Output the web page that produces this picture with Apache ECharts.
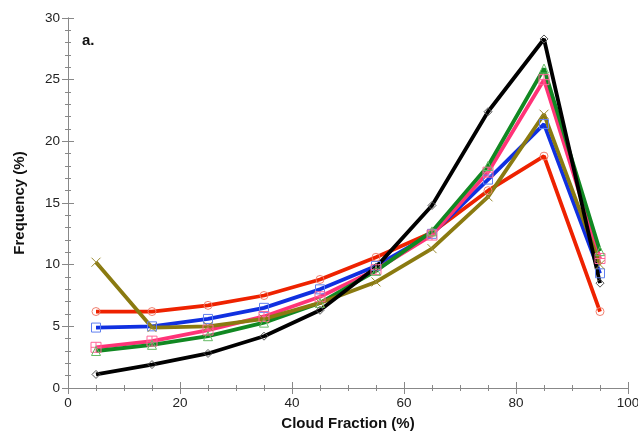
<!DOCTYPE html>
<html>
<head>
<meta charset="utf-8">
<script src="https://cdn.jsdelivr.net/npm/echarts@6/dist/echarts.min.js"></script>
<style>
html, body { margin: 0; padding: 0; background: #fff; }
#main { width: 638px; height: 431px; }
</style>
</head>
<body>
<div id="main"></div>
<script>
// cloud fraction bin centres
var cloudFraction = [5, 15, 25, 35, 45, 55, 65, 75, 85, 95];

var redVals   = [6.2, 6.2, 6.7, 7.5, 8.8, 10.6, 12.6, 16.0, 18.8, 6.2];
var blueVals  = [4.9, 5.0, 5.6, 6.5, 8.0, 9.9, 12.5, 16.9, 21.4, 9.3];
var pinkVals  = [3.3, 3.8, 4.7, 5.8, 7.4, 9.6, 12.4, 17.5, 25.0, 10.5];
var greenVals = [3.0, 3.5, 4.2, 5.3, 6.9, 9.5, 12.7, 18.0, 25.9, 11.1];
var oliveVals = [10.2, 4.9, 5.0, 5.6, 6.9, 8.6, 11.3, 15.5, 22.2, 10.0];
var blackVals = [1.1, 1.9, 2.8, 4.2, 6.3, 9.8, 14.8, 22.4, 28.3, 8.5];

function pairs(vals) {
  return cloudFraction.map(function (x, i) { return [x, vals[i]]; });
}

function mkSeries(name, vals, lineColor, markColor, symbol, size) {
  return {
    name: name,
    type: 'line',
    data: pairs(vals),
    symbol: symbol,
    symbolSize: size,
    showAllSymbol: true,
    lineStyle: { color: lineColor, width: 3.8 },
    itemStyle: { color: 'rgba(255,255,255,0)', borderColor: markColor, borderWidth: 1 },
    emphasis: { disabled: true },
    z: 2
  };
}

var chart = echarts.init(document.getElementById('main'));

var axisText = { color: '#222', fontSize: 13.5, fontFamily: 'Liberation Sans, Arial' };
var axLine = { show: true, lineStyle: { color: '#888', width: 1 } };

chart.setOption({
  animation: false,
  grid: { left: 68, right: 10, top: 18, bottom: 43, outerBoundsMode: 'none' },
  xAxis: [
    {
      type: 'value', min: 0, max: 100, interval: 20,
      name: 'Cloud Fraction (%)', nameLocation: 'middle', nameGap: 28,
      nameTextStyle: { fontSize: 15, fontWeight: 'bold', color: '#111', fontFamily: 'Liberation Sans, Arial' },
      axisLine: axLine,
      axisTick: { inside: true, length: 6, lineStyle: { color: '#888' } },
      minorTick: { show: true, splitNumber: 4, length: 3, lineStyle: { color: '#888' } },
      axisLabel: axisText,
      splitLine: { show: false }
    },
    {
      type: 'value', min: 0, max: 100, interval: 20, position: 'top',
      axisLine: axLine,
      axisTick: { inside: true, length: 6, lineStyle: { color: '#888' } },
      minorTick: { show: true, splitNumber: 4, length: 3, lineStyle: { color: '#888' } },
      axisLabel: { show: false },
      splitLine: { show: false }
    }
  ],
  yAxis: [
    {
      type: 'value', min: 0, max: 30, interval: 5,
      name: 'Frequency (%)', nameLocation: 'middle', nameGap: 41,
      nameTextStyle: { fontSize: 15, fontWeight: 'bold', color: '#111', fontFamily: 'Liberation Sans, Arial' },
      axisLine: axLine,
      axisTick: { inside: true, length: 6, lineStyle: { color: '#888' } },
      minorTick: { show: true, splitNumber: 5, length: 3, lineStyle: { color: '#888' } },
      axisLabel: axisText,
      splitLine: { show: false }
    },
    {
      type: 'value', min: 0, max: 30, interval: 5, position: 'right',
      axisLine: axLine,
      axisTick: { inside: true, length: 6, lineStyle: { color: '#888' } },
      minorTick: { show: true, splitNumber: 5, length: 3, lineStyle: { color: '#888' } },
      axisLabel: { show: false },
      splitLine: { show: false }
    }
  ],
  graphic: [
    { type: 'text', left: 82, top: 33,
      style: { text: 'a.', fontSize: 15, fontWeight: 'bold', fill: '#111', fontFamily: 'Liberation Sans, Arial' } }
  ],
  series: [
    mkSeries('red', redVals, '#ee2200', '#f08070', 'circle', 8),
    mkSeries('blue', blueVals, '#1030e0', '#6080f0', 'rect', 9),
    mkSeries('pink', pinkVals, '#ff3377', '#ff6699', 'path://M0,0H10V10H0Z M5,0V10 M0,5H10', 10),
    mkSeries('green', greenVals, '#118822', '#66bb66', 'triangle', 9),
    mkSeries('olive', oliveVals, '#8a7a10', '#9a8a30', 'path://M0,0L10,10M10,0L0,10', 9),
    mkSeries('black', blackVals, '#000000', '#555555', 'diamond', 8)
  ]
});
</script>
</body>
</html>
